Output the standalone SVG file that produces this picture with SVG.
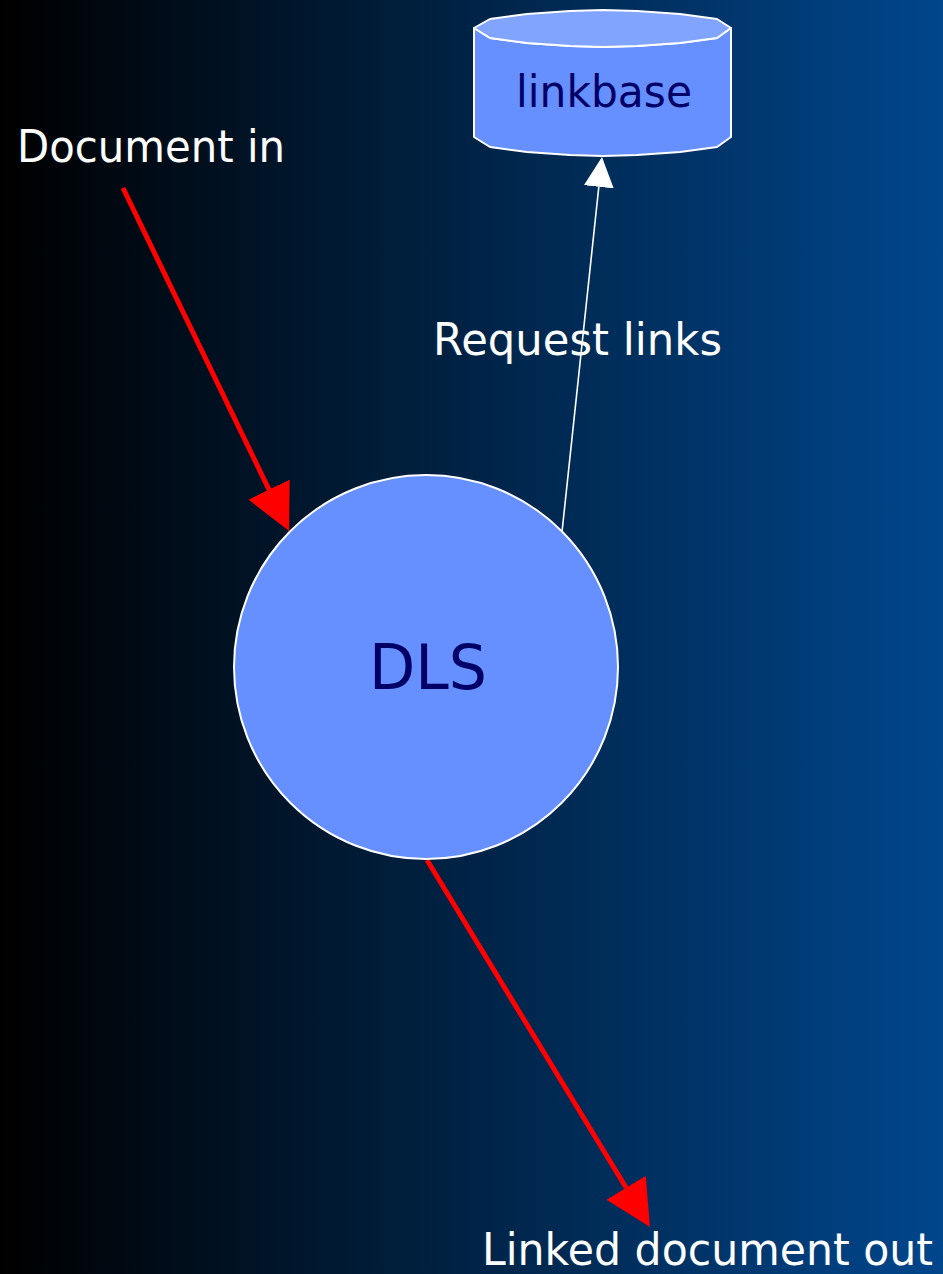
<svg xmlns="http://www.w3.org/2000/svg" width="943" height="1274" viewBox="0 0 943 1274">
<style>
.lbl{font-family:"DejaVu Sans","Liberation Sans",sans-serif;fill:#ffffff;font-size:44px}
.nodetxt{font-family:"DejaVu Sans","Liberation Sans",sans-serif;fill:#000066}
.red{stroke:#ff0000;stroke-width:5;fill:none}
.wht{stroke:#ffffff;stroke-width:1.6;fill:none}
</style>
<defs>
<linearGradient id="bg" x1="0" y1="0" x2="1" y2="0">
<stop offset="0" stop-color="#000000"/>
<stop offset="1" stop-color="#00468c"/>
</linearGradient>
<marker id="redHead" markerUnits="userSpaceOnUse" markerWidth="48" markerHeight="48" viewBox="0 -24 48 48" refX="0" refY="0" orient="auto">
<path d="M0,-23 L46,0 L0,23 Z" fill="#ff0000"/>
</marker>
<marker id="whiteHead" markerUnits="userSpaceOnUse" markerWidth="32" markerHeight="32" viewBox="0 -16 32 32" refX="0" refY="0" orient="auto">
<path d="M0,-15 L30,0 L0,15 Z" fill="#ffffff"/>
</marker>
</defs>
<rect x="0" y="0" width="943" height="1274" fill="url(#bg)"/>

<g id="connectors">
<line class="red" x1="123" y1="188" x2="269" y2="489.6" marker-end="url(#redHead)"/>
<line class="red" x1="427" y1="860" x2="626.1" y2="1187.7" marker-end="url(#redHead)"/>
<line class="wht" x1="562" y1="532" x2="598.8" y2="186.8" marker-end="url(#whiteHead)"/>
</g>

<g id="node-linkbase">
<path d="M474,28 L474,137 L490,147 L527,152 L570,155 L603,156 L637,155 L680,152 L717,147 L731,137 L731,28 L717,38 L680,43 L637,46 L603,47 L570,46 L527,43 L490,38 Z" fill="#668fff" stroke="#ffffff" stroke-width="2" stroke-linejoin="round"/>
<path d="M474,28 L490,19 L527,14 L570,11 L603,10 L637,11 L680,14 L717,19 L731,28 L717,38 L680,43 L637,46 L603,47 L570,46 L527,43 L490,38 Z" fill="#80a4ff" stroke="#ffffff" stroke-width="2" stroke-linejoin="round"/>
<text class="nodetxt" x="604" y="107" font-size="45" text-anchor="middle" textLength="176" lengthAdjust="spacingAndGlyphs">linkbase</text>
</g>

<g id="node-dls">
<circle cx="426" cy="667" r="192" fill="#668fff" stroke="#ffffff" stroke-width="2"/>
<text class="nodetxt" x="428" y="689" font-size="62" text-anchor="middle" textLength="118" lengthAdjust="spacingAndGlyphs">DLS</text>
</g>

<g id="labels">
<text class="lbl" x="17" y="162" textLength="268" lengthAdjust="spacingAndGlyphs">Document in</text>
<text class="lbl" x="433" y="355" textLength="289" lengthAdjust="spacingAndGlyphs">Request links</text>
<text class="lbl" x="482" y="1265" textLength="451" lengthAdjust="spacingAndGlyphs">Linked document out</text>
</g>
</svg>
